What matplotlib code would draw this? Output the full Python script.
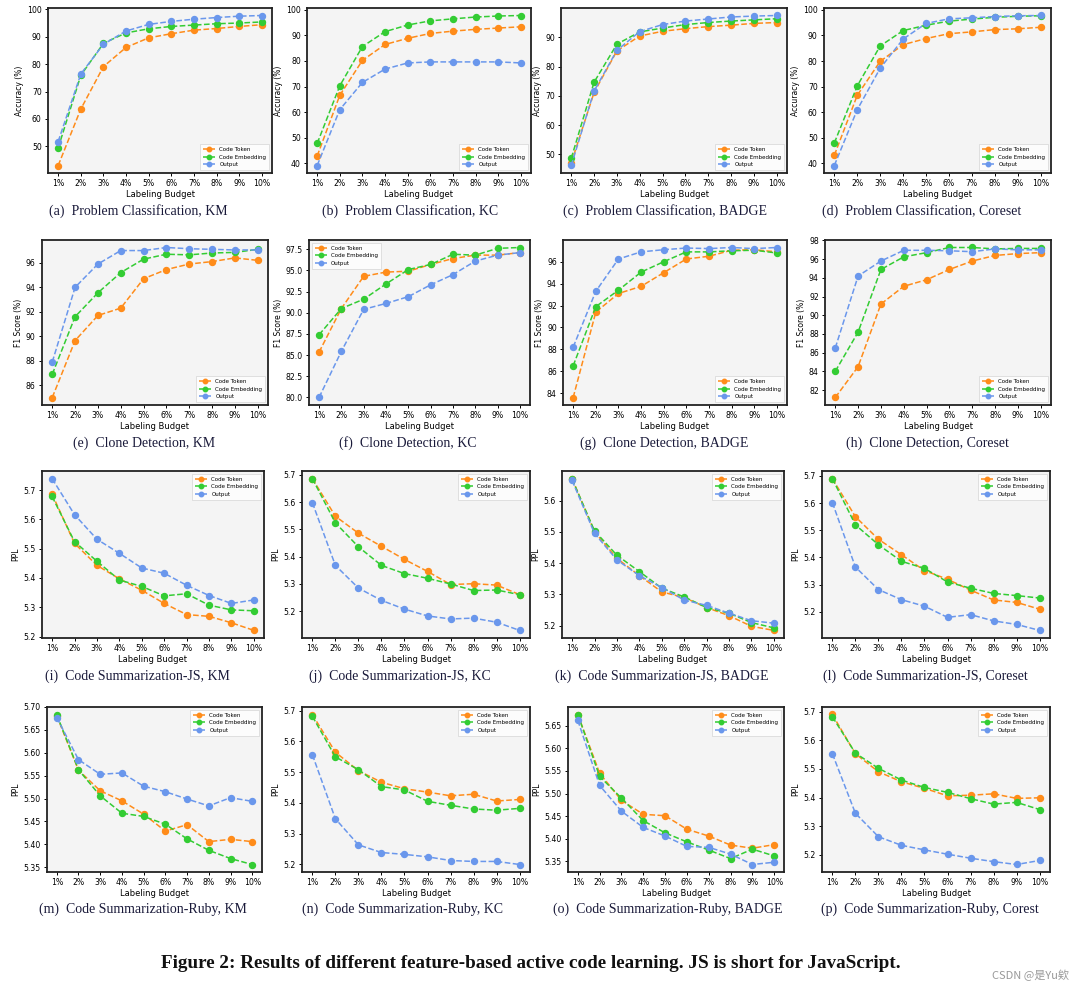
import matplotlib
matplotlib.use("Agg")
import matplotlib.pyplot as plt
import numpy as np

budgets = ["1%", "2%", "3%", "4%", "5%", "6%", "7%", "8%", "9%", "10%"]
series_names = ["Code Token", "Code Embedding", "Output"]
series_colors = ["#ff8c1a", "#33cc33", "#6a97ec"]

# (a) Problem Classification, KM
a_token = [43.0, 63.6, 79.1, 86.1, 89.6, 91.1, 92.4, 93.0, 93.75, 94.4]
a_embed = [49.4, 75.9, 87.6, 91.4, 92.9, 93.75, 94.25, 94.75, 95.0, 95.4]
a_output = [51.75, 76.4, 87.25, 92.1, 94.5, 95.6, 96.4, 97.0, 97.5, 97.75]
# (b) Problem Classification, KC
b_token = [42.9, 66.6, 80.2, 86.4, 88.8, 90.7, 91.6, 92.3, 92.8, 93.3]
b_embed = [47.8, 70.3, 85.6, 91.4, 94.0, 95.6, 96.4, 97.1, 97.5, 97.7]
b_output = [39.2, 61.0, 71.6, 76.8, 79.2, 79.6, 79.6, 79.6, 79.6, 79.2]
# (c) Problem Classification, BADGE
c_token = [47.1, 71.2, 85.4, 90.5, 92.1, 93.0, 93.7, 94.2, 94.8, 95.1]
c_embed = [48.7, 74.7, 87.7, 91.9, 93.2, 94.4, 95.1, 95.6, 96.0, 96.4]
c_output = [46.2, 71.7, 85.6, 92.0, 94.4, 95.6, 96.3, 97.0, 97.3, 97.5]
# (d) Problem Classification, Coreset
d_token = [43.2, 66.6, 79.9, 86.4, 88.8, 90.7, 91.4, 92.3, 92.6, 93.2]
d_embed = [48.0, 70.3, 85.9, 91.9, 94.0, 95.6, 96.4, 97.1, 97.5, 97.7]
d_output = [39.2, 61.0, 77.2, 88.6, 94.7, 96.5, 96.9, 97.4, 97.7, 97.8]
# (e) Clone Detection, KM
e_token = [85.0, 89.65, 91.7, 92.3, 94.7, 95.45, 95.9, 96.1, 96.4, 96.2]
e_embed = [86.9, 91.6, 93.55, 95.2, 96.3, 96.7, 96.65, 96.8, 96.85, 97.1]
e_output = [87.9, 94.0, 95.9, 97.0, 97.0, 97.25, 97.15, 97.1, 97.05, 97.05]
# (f) Clone Detection, KC
f_token = [85.35, 90.5, 94.3, 94.8, 94.9, 95.7, 96.4, 96.8, 96.8, 97.1]
f_embed = [87.4, 90.5, 91.6, 93.4, 95.1, 95.7, 96.9, 96.8, 97.6, 97.7]
f_output = [80.0, 85.45, 90.4, 91.1, 91.9, 93.3, 94.5, 96.1, 96.8, 97.1]
# (g) Clone Detection, BADGE
g_token = [83.6, 91.4, 93.1, 93.75, 95.0, 96.25, 96.5, 97.05, 97.1, 96.9]
g_embed = [86.5, 91.9, 93.4, 95.05, 96.0, 96.9, 96.9, 97.0, 97.05, 96.8]
g_output = [88.2, 93.3, 96.25, 96.9, 97.1, 97.25, 97.2, 97.3, 97.2, 97.3]
# (h) Clone Detection, Coreset
h_token = [81.2, 84.5, 91.2, 93.1, 93.8, 94.9, 95.8, 96.4, 96.6, 96.7]
h_embed = [84.0, 88.2, 94.9, 96.25, 96.7, 97.25, 97.25, 97.1, 97.15, 97.15]
h_output = [86.5, 94.2, 95.8, 96.95, 96.95, 96.9, 96.8, 97.1, 97.0, 97.0]
# (i) Code Summarization-JS, KM
i_token = [5.686, 5.518, 5.443, 5.397, 5.358, 5.313, 5.275, 5.269, 5.247, 5.221]
i_embed = [5.678, 5.524, 5.457, 5.393, 5.371, 5.339, 5.346, 5.307, 5.291, 5.288]
i_output = [5.739, 5.616, 5.532, 5.484, 5.434, 5.416, 5.375, 5.340, 5.313, 5.325]
# (j) Code Summarization-JS, KC
j_token = [5.686, 5.548, 5.486, 5.438, 5.390, 5.346, 5.298, 5.301, 5.296, 5.261]
j_embed = [5.686, 5.524, 5.436, 5.368, 5.338, 5.321, 5.300, 5.276, 5.278, 5.261]
j_output = [5.598, 5.368, 5.285, 5.240, 5.208, 5.183, 5.172, 5.175, 5.160, 5.130]
# (k) Code Summarization-JS, BADGE
k_token = [5.670, 5.500, 5.415, 5.360, 5.308, 5.290, 5.258, 5.232, 5.198, 5.185]
k_embed = [5.668, 5.503, 5.425, 5.373, 5.320, 5.292, 5.258, 5.240, 5.210, 5.193]
k_output = [5.664, 5.495, 5.410, 5.360, 5.322, 5.282, 5.265, 5.240, 5.216, 5.208]
# (l) Code Summarization-JS, Coreset
l_token = [5.690, 5.550, 5.467, 5.410, 5.352, 5.320, 5.280, 5.244, 5.235, 5.210]
l_embed = [5.690, 5.520, 5.447, 5.386, 5.360, 5.310, 5.287, 5.268, 5.260, 5.251]
l_output = [5.602, 5.365, 5.282, 5.245, 5.221, 5.180, 5.190, 5.167, 5.154, 5.132]
# (m) Code Summarization-Ruby, KM
m_token = [5.681, 5.562, 5.517, 5.495, 5.466, 5.429, 5.443, 5.406, 5.411, 5.406]
m_embed = [5.683, 5.563, 5.506, 5.468, 5.461, 5.444, 5.412, 5.387, 5.369, 5.356]
m_output = [5.677, 5.585, 5.553, 5.556, 5.527, 5.515, 5.499, 5.484, 5.502, 5.494]
# (n) Code Summarization-Ruby, KC
n_token = [5.688, 5.565, 5.505, 5.467, 5.446, 5.435, 5.423, 5.428, 5.406, 5.411]
n_embed = [5.682, 5.550, 5.508, 5.453, 5.442, 5.405, 5.392, 5.380, 5.376, 5.382]
n_output = [5.557, 5.348, 5.263, 5.238, 5.232, 5.224, 5.212, 5.209, 5.209, 5.199]
# (o) Code Summarization-Ruby, BADGE
o_token = [5.675, 5.545, 5.485, 5.454, 5.451, 5.421, 5.406, 5.386, 5.379, 5.387]
o_embed = [5.675, 5.538, 5.490, 5.440, 5.413, 5.393, 5.375, 5.356, 5.377, 5.362]
o_output = [5.662, 5.518, 5.461, 5.425, 5.406, 5.383, 5.381, 5.366, 5.343, 5.348]
# (p) Code Summarization-Ruby, Corest
p_token = [5.690, 5.553, 5.490, 5.455, 5.432, 5.406, 5.408, 5.413, 5.397, 5.399]
p_embed = [5.682, 5.555, 5.502, 5.461, 5.435, 5.418, 5.396, 5.377, 5.383, 5.358]
p_output = [5.553, 5.345, 5.263, 5.233, 5.217, 5.202, 5.188, 5.176, 5.166, 5.180]

captions = [
    "(a)  Problem Classification, KM", "(b)  Problem Classification, KC",
    "(c)  Problem Classification, BADGE", "(d)  Problem Classification, Coreset",
    "(e)  Clone Detection, KM", "(f)  Clone Detection, KC",
    "(g)  Clone Detection, BADGE", "(h)  Clone Detection, Coreset",
    "(i)  Code Summarization-JS, KM", "(j)  Code Summarization-JS, KC",
    "(k)  Code Summarization-JS, BADGE", "(l)  Code Summarization-JS, Coreset",
    "(m)  Code Summarization-Ruby, KM", "(n)  Code Summarization-Ruby, KC",
    "(o)  Code Summarization-Ruby, BADGE", "(p)  Code Summarization-Ruby, Corest",
]
row_ylabels = ["Accuracy (%)", "F1 Score (%)", "PPL", "PPL"]
xlabel = "Labeling Budget"
yticks_list = [
    [50, 60, 70, 80, 90, 100], [40, 50, 60, 70, 80, 90, 100],
    [50, 60, 70, 80, 90], [40, 50, 60, 70, 80, 90, 100],
    [86, 88, 90, 92, 94, 96], [80.0, 82.5, 85.0, 87.5, 90.0, 92.5, 95.0, 97.5],
    [84, 86, 88, 90, 92, 94, 96], [82, 84, 86, 88, 90, 92, 94, 96, 98],
    [5.2, 5.3, 5.4, 5.5, 5.6, 5.7], [5.2, 5.3, 5.4, 5.5, 5.6, 5.7],
    [5.2, 5.3, 5.4, 5.5, 5.6], [5.2, 5.3, 5.4, 5.5, 5.6, 5.7],
    [5.35, 5.40, 5.45, 5.50, 5.55, 5.60, 5.65, 5.70], [5.2, 5.3, 5.4, 5.5, 5.6, 5.7],
    [5.35, 5.40, 5.45, 5.50, 5.55, 5.60, 5.65], [5.2, 5.3, 5.4, 5.5, 5.6, 5.7],
]
ytick_fmt = ["%d"] * 4 + ["%d", "%.1f", "%d", "%d"] + ["%.1f"] * 4 + ["%.2f", "%.1f", "%.2f", "%.1f"]
legend_locs = ["lower right"] * 4 + ["lower right", "upper left", "lower right", "lower right"] + ["upper right"] * 8
caption = "Figure 2: Results of different feature-based active code learning. JS is short for JavaScript."

panel_data = [
    (a_token, a_embed, a_output), (b_token, b_embed, b_output),
    (c_token, c_embed, c_output), (d_token, d_embed, d_output),
    (e_token, e_embed, e_output), (f_token, f_embed, f_output),
    (g_token, g_embed, g_output), (h_token, h_embed, h_output),
    (i_token, i_embed, i_output), (j_token, j_embed, j_output),
    (k_token, k_embed, k_output), (l_token, l_embed, l_output),
    (m_token, m_embed, m_output), (n_token, n_embed, n_output),
    (o_token, o_embed, o_output), (p_token, p_embed, p_output),
]

W, H = 1077, 992
fig = plt.figure(figsize=(W / 100, H / 100), dpi=100)
fig.patch.set_facecolor("white")

# axes boxes in pixels: (left, right) per column, (top, bottom) per row
col_x = [
    [(48, 272), (307, 531), (561, 787), (824, 1051)],
    [(42, 268), (309, 530), (563, 787), (825, 1051)],
    [(42, 264), (302, 530), (562, 784), (822, 1050)],
    [(47, 262), (302, 530), (568, 784), (822, 1050)],
]
row_y = [(8, 173), (240, 405), (471, 638), (707, 872)]
caption_y = [211, 443, 676, 909]
caption_cx = [[138, 410, 665, 922], [144, 408, 664, 927], [137, 400, 662, 925], [143, 402, 668, 930]]

x = np.arange(1, 11)
serif = ["Liberation Serif", "DejaVu Serif"]

for idx, series in enumerate(panel_data):
    r, c = divmod(idx, 4)
    l, rr = col_x[r][c]
    t, b = row_y[r]
    ax = fig.add_axes([l / W, 1 - b / H, (rr - l) / W, (b - t) / H])
    ax.set_facecolor("#f4f4f4")
    for name, col, vals in zip(series_names, series_colors, series):
        ax.plot(x, vals, linestyle="--", marker="o", color=col, lw=1.1,
                markersize=4.3, label=name)
    ax.set_xticks(x)
    ax.set_xticklabels(budgets)
    yt = yticks_list[idx]
    ax.set_yticks(yt)
    ax.set_yticklabels([ytick_fmt[idx] % v for v in yt])
    ax.tick_params(labelsize=5.6, length=2.5, width=0.7, pad=2)
    for s in ax.spines.values():
        s.set_linewidth(1.3)
        s.set_color("#222222")
    ax.set_xlabel(xlabel, fontsize=6, labelpad=1)
    ax.set_ylabel(row_ylabels[r], fontsize=5.5, labelpad=2)
    leg = ax.legend(loc=legend_locs[idx], fontsize=4, frameon=True,
                    handlelength=2.2, markerscale=0.75, borderpad=0.5,
                    labelspacing=0.5, fancybox=False)
    leg.get_frame().set_linewidth(0.5)
    leg.get_frame().set_edgecolor("#cccccc")
    fig.text(caption_cx[r][c] / W, 1 - caption_y[r] / H, captions[idx], ha="center",
             va="center", fontsize=10, family=serif, color="#1a1a3a")

fig.text(531 / W, 1 - 963 / H, caption, ha="center", va="center", fontsize=13.8,
         fontweight="bold", family=serif, color="#111111")
fig.text(1030 / W, 1 - 975 / H, "CSDN @是Yu欸", ha="center", va="center", fontsize=8,
         family=["Noto Sans CJK SC", "DejaVu Sans"], color="#999999")

fig.savefig("out.png", dpi=100)
